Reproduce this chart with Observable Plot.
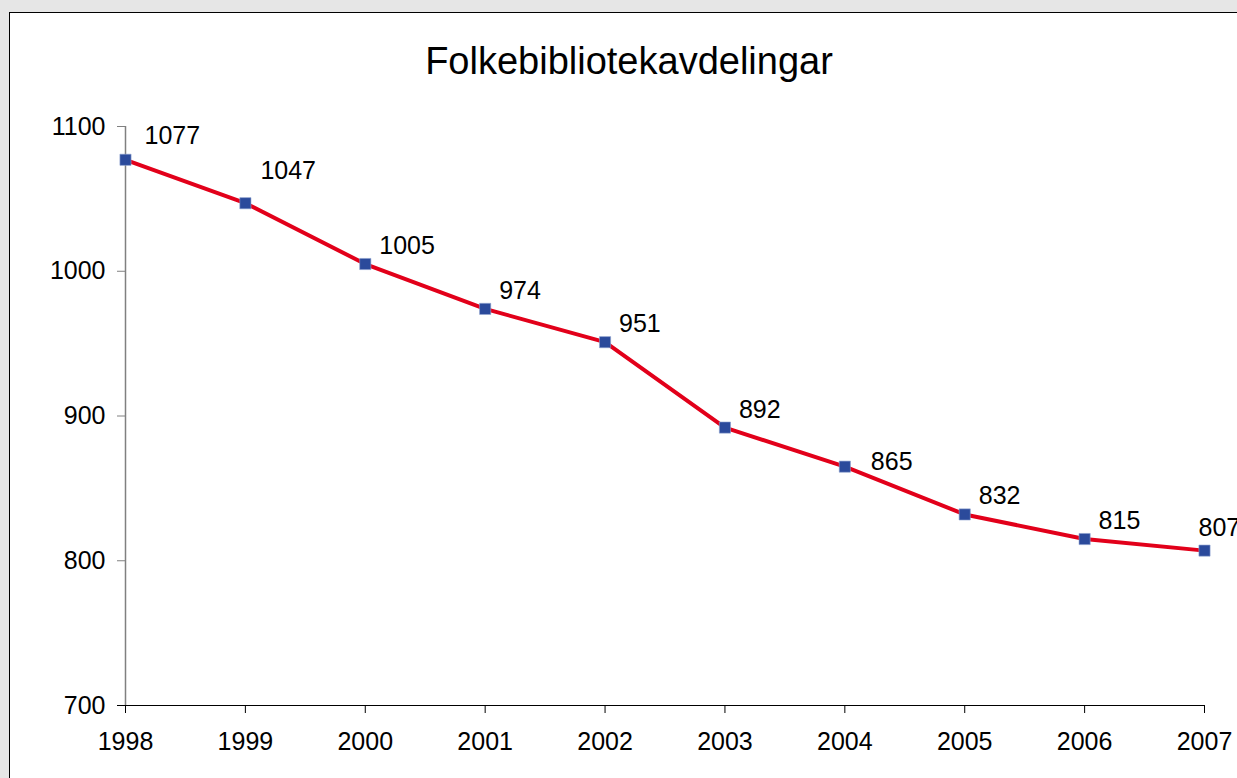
<!DOCTYPE html>
<html>
<head>
<meta charset="utf-8">
<script src="https://cdn.jsdelivr.net/npm/d3@7"></script>
<script src="https://cdn.jsdelivr.net/npm/@observablehq/plot@0.6"></script>
<style>
  html, body { margin: 0; padding: 0; background: #e6e6e6; width: 1237px; height: 778px; overflow: hidden; }
  #box { position: absolute; left: 9px; top: 12px; width: 1300px; height: 900px; background: #fff; border-left: 1.5px solid #000; border-top: 1.5px solid #000; }
  #title { position: absolute; left: 0; width: 1258px; top: 38px; text-align: center; font-family: "Liberation Sans", Arial, sans-serif; font-size: 38px; line-height: 46px; color: #000; }
  #chart { position: absolute; left: 0; top: 0; }
</style>
</head>
<body>
<div id="box"></div>
<div id="title">Folkebibliotekavdelingar</div>
<div id="chart"></div>
<script>
const years = [1998, 1999, 2000, 2001, 2002, 2003, 2004, 2005, 2006, 2007];
const counts = [1077, 1047, 1005, 974, 951, 892, 865, 832, 815, 807];
const yTicks = [700, 800, 900, 1000, 1100];

const data = years.map((y, i) => ({year: y, value: counts[i]}));

// label nudges (pixels), as placed in the original chart
const nudgeX = {1998: 19, 1999: 15, 2004: 26, 2007: -6};
const nudgeY = {1998: -24, 1999: -32, 2004: -5, 2007: -23};

const font = "'Liberation Sans', Arial, sans-serif";

const plot = Plot.plot({
  width: 1237,
  height: 778,
  marginLeft: 125,
  marginRight: 33,
  marginTop: 126,
  marginBottom: 73,
  style: {background: "transparent", fontFamily: font, fontSize: "25px", color: "#000", overflow: "visible"},
  x: {type: "linear", domain: [1998, 2007]},
  y: {domain: [700, 1100]},
  marks: [
    Plot.ruleX([1998], {stroke: "#808080", strokeWidth: 1.5}),
    Plot.axisY({ticks: yTicks, tickSize: 8, tickPadding: 12, stroke: "#808080", tickFormat: d => String(d), label: null, fontSize: 25, fill: "#000"}),
    Plot.ruleY([700], {x1: 1998, x2: 2007, dx: -8, stroke: "#000", strokeWidth: 1.2}),
    Plot.ruleY([700], {x1: 1998, x2: 2007, stroke: "#000", strokeWidth: 1.2}),
    Plot.axisX({ticks: years, tickSize: 8, tickPadding: 19, stroke: "#000", tickFormat: d => String(d), label: null, fontSize: 25, fill: "#000"}),
    Plot.line(data, {x: "year", y: "value", stroke: "#e2001a", strokeWidth: 4}),
    Plot.dot(data, {x: "year", y: "value", symbol: "square", r: 6.3, fill: "#2b4a9b", stroke: "#8fa3d0", strokeWidth: 0.6}),
    ...data.map(d => Plot.text([d], {
      x: "year", y: "value", text: r => String(r.value),
      textAnchor: "start",
      dx: nudgeX[d.year] ?? 14,
      dy: nudgeY[d.year] ?? -18,
      fontSize: 25, fill: "#000"
    }))
  ]
});
document.getElementById("chart").appendChild(plot);
</script>
</body>
</html>
